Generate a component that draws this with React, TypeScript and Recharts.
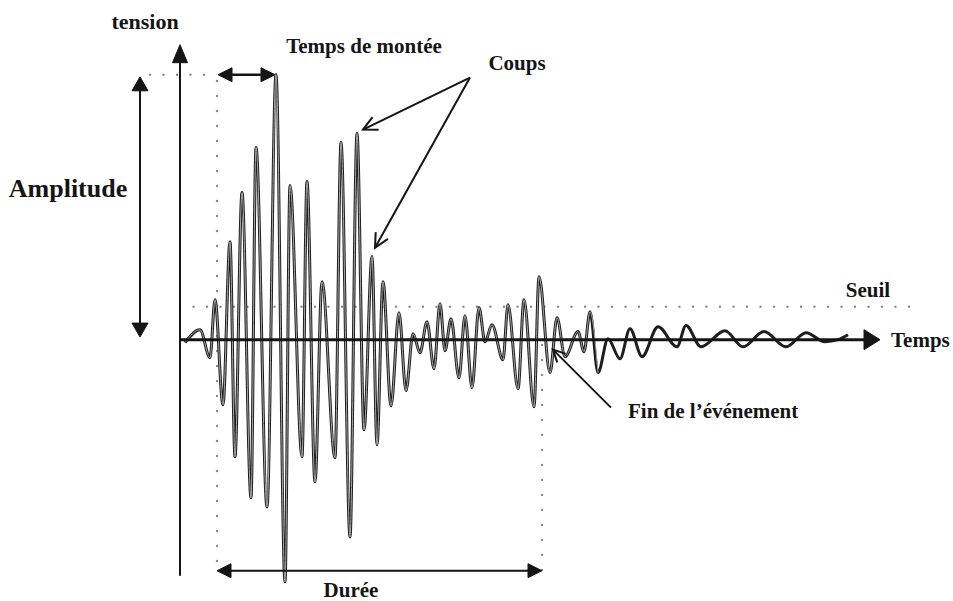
import React from 'react';
import { ComposedChart, Line, XAxis, YAxis, ReferenceLine, ReferenceDot } from 'recharts';

// Time (t) and voltage (v) of the acoustic-emission burst
const times = [0.5, 2.0, 3.0, 3.5, 4.3, 5.0, 5.5, 6.2, 7.1, 7.6, 8.7, 9.6, 10.5, 11.0, 12.2, 12.7, 13.5, 14.2, 15.5, 16.1, 17.0, 17.7, 18.4, 19.2, 19.7, 20.3, 21.1, 21.9, 22.6, 23.3, 24.0, 24.7, 25.4, 26.0, 26.5, 27.1, 27.9, 28.5, 29.2, 29.9, 30.5, 31.2, 32.3, 32.8, 33.8, 34.4, 35.4, 35.9, 37.0, 37.7, 38.5, 39.8, 40.4, 41.0, 41.8, 42.8, 44.0, 45.0, 46.2, 47.8, 49.7, 50.6, 52.1, 54.5, 56.3, 58.4, 60.6, 62.6, 64.5, 65.8, 66.8];
const volts = [-1.1, 3.8, -6.9, 15.3, -24.9, 37.5, -44.8, 56.3, -60.5, 73.6, -64.0, 101.5, -92.7, 59.0, -44.8, 60.5, -54.4, 22.2, -45.2, 75.5, -75.5, 78.9, -34.5, 31.8, -40.2, 22.2, -25.3, 10.3, -19.5, 2.3, -5.0, 6.9, -11.1, 13.8, -4.2, 8.0, -14.6, 9.2, -18.4, 12.3, -0.8, 5.7, -7.7, 13.4, -18.8, 15.3, -25.7, 24.1, -12.6, 8.4, -6.5, 3.1, -4.6, 10.7, -12.6, 0.4, -7.3, 4.2, -6.5, 5.0, -2.7, 5.4, -2.7, 3.4, -2.7, 3.1, -2.7, 2.7, -0.8, 0, 1.9];

const threshold = 12.6;
const amplitude = 101.4;
const riseStart = 3.7;
const riseEnd = 9.5;
const eventEnd = 36.2;
const burstEnd = 41.8; // last sample of the burst drawn with the hollow stroke

const data = times.map((t, i) => ({
  t,
  v: volts[i],
  burst: t <= burstEnd ? volts[i] : null,
}));

const INK = '#151515';
const DOT = '#8a8a8a';

type ArrowOpts = { start?: boolean; end?: boolean; head: number; half: number; width: number; color: string; open?: boolean };

function arrowShape(o: ArrowOpts) {
  return (p: any) => {
    const { x1, y1, x2, y2 } = p;
    const dx = x2 - x1, dy = y2 - y1;
    const len = Math.sqrt(dx * dx + dy * dy) || 1;
    const ux = dx / len, uy = dy / len;
    const nx = -uy, ny = ux;
    let sx = x1, sy = y1, ex = x2, ey = y2;
    const heads: React.ReactNode[] = [];
    const mk = (tx: number, ty: number, dirx: number, diry: number, key: string) => {
      const bx = tx - dirx * o.head, by = ty - diry * o.head;
      const a = `${bx + nx * o.half},${by + ny * o.half}`;
      const b = `${bx - nx * o.half},${by - ny * o.half}`;
      if (o.open) {
        return <polyline key={key} points={`${a} ${tx},${ty} ${b}`} fill="none" stroke={o.color} strokeWidth={o.width} strokeLinejoin="miter" />;
      }
      return <polygon key={key} points={`${a} ${tx},${ty} ${b}`} fill={o.color} stroke={o.color} strokeWidth={1} />;
    };
    if (o.end) {
      heads.push(mk(x2, y2, ux, uy, 'e'));
      if (!o.open) { ex = x2 - ux * o.head * 0.9; ey = y2 - uy * o.head * 0.9; }
    }
    if (o.start) {
      heads.push(mk(x1, y1, -ux, -uy, 's'));
      if (!o.open) { sx = x1 + ux * o.head * 0.9; sy = y1 + uy * o.head * 0.9; }
    }
    return (
      <g>
        <line x1={sx} y1={sy} x2={ex} y2={ey} stroke={o.color} strokeWidth={o.width} />
        {heads}
      </g>
    );
  };
}

function textShape(text: string, size: number, anchor: 'start' | 'middle' | 'end') {
  return (p: any) => (
    <text x={p.cx} y={p.cy} textAnchor={anchor} fontFamily="'Liberation Serif', 'Times New Roman', serif" fontWeight="bold" fontSize={size} fill={INK}>
      {text}
    </text>
  );
}

const labels: { text: string; t: number; v: number; size: number; anchor: 'start' | 'middle' | 'end' }[] = [
  { text: 'tension', t: -3.5, v: 118.9, size: 22, anchor: 'middle' },
  { text: 'Temps de montée', t: 18.4, v: 109.8, size: 21, anchor: 'middle' },
  { text: 'Coups', t: 33.7, v: 103.3, size: 21, anchor: 'middle' },
  { text: 'Amplitude', t: -11.2, v: 54.7, size: 26, anchor: 'middle' },
  { text: 'Seuil', t: 68.8, v: 16.5, size: 21, anchor: 'middle' },
  { text: 'Temps', t: 71.1, v: -2.7, size: 21, anchor: 'start' },
  { text: 'Fin de l\u2019événement', t: 44.8, v: -29.9, size: 21, anchor: 'start' },
  { text: 'Durée', t: 17.1, v: -98.4, size: 21, anchor: 'middle' },
];

const coupsApex = { t: 29, v: 100.3 };
const coupsTips = [{ t: 18.3, v: 80.4 }, { t: 19.5, v: 35.2 }];
const finArrow = [{ t: 43.1, v: -26.0 }, { t: 37.3, v: -3.8 }];

export default function App() {
  return (
    <div style={{ position: 'absolute', left: 0, top: 0, width: 953, height: 601, background: '#fff' }}>
      <ComposedChart width={953} height={601} data={data} margin={{ top: 0, right: 0, bottom: 0, left: 0 }}>
        <XAxis dataKey="t" type="number" domain={[-18, 77.3]} hide allowDataOverflow />
        <YAxis type="number" domain={[-100, 130]} hide allowDataOverflow />

        {/* dotted guides */}
        <ReferenceLine segment={[{ x: 0, y: threshold }, { x: 73, y: threshold }]} stroke={DOT} strokeWidth={2.4} strokeDasharray="0 13.5" strokeLinecap="round" ifOverflow="visible" />
        <ReferenceLine segment={[{ x: -3, y: amplitude }, { x: riseStart, y: amplitude }]} stroke={DOT} strokeWidth={2.4} strokeDasharray="0 13.5" strokeLinecap="round" ifOverflow="visible" />
        <ReferenceLine segment={[{ x: riseStart, y: 99 }, { x: riseStart, y: -88 }]} stroke={DOT} strokeWidth={2.4} strokeDasharray="0 15" strokeLinecap="round" ifOverflow="visible" />
        <ReferenceLine segment={[{ x: eventEnd, y: -2 }, { x: eventEnd, y: -90 }]} stroke={DOT} strokeWidth={2.4} strokeDasharray="0 15" strokeLinecap="round" ifOverflow="visible" />

        {/* signal: dark stroke for the whole record, light core over the burst */}
        <Line dataKey="v" type="monotone" stroke="#1e1e1e" strokeWidth={3.0} dot={false} activeDot={false} isAnimationActive={false} />
        <Line dataKey="burst" type="monotone" stroke="#a8a8a8" strokeWidth={1.0} dot={false} activeDot={false} isAnimationActive={false} />

        {/* axes */}
        <ReferenceLine segment={[{ x: 0, y: -90.3 }, { x: 0, y: 112.9 }]} ifOverflow="visible" shape={arrowShape({ end: true, head: 18, half: 7.5, width: 2, color: INK })} />
        <ReferenceLine segment={[{ x: 0, y: 0 }, { x: 70, y: 0 }]} ifOverflow="visible" shape={arrowShape({ end: true, head: 16, half: 10, width: 3, color: INK })} />

        {/* dimension arrows */}
        <ReferenceLine segment={[{ x: -4, y: 1 }, { x: -4, y: 100.6 }]} ifOverflow="visible" shape={arrowShape({ start: true, end: true, head: 14, half: 8, width: 2, color: INK })} />
        <ReferenceLine segment={[{ x: riseStart + 0.1, y: amplitude }, { x: riseEnd, y: amplitude }]} ifOverflow="visible" shape={arrowShape({ start: true, end: true, head: 14, half: 7, width: 2.5, color: INK })} />
        <ReferenceLine segment={[{ x: riseStart, y: -88.4 }, { x: eventEnd, y: -88.4 }]} ifOverflow="visible" shape={arrowShape({ start: true, end: true, head: 14, half: 7, width: 2, color: INK })} />

        {coupsTips.map((tip, i) => (
          <ReferenceLine key={`c${i}`} segment={[{ x: coupsApex.t, y: coupsApex.v }, { x: tip.t, y: tip.v }]} ifOverflow="visible" shape={arrowShape({ end: true, open: true, head: 14, half: 7, width: 2, color: INK })} />
        ))}
        <ReferenceLine segment={[{ x: finArrow[0].t, y: finArrow[0].v }, { x: finArrow[1].t, y: finArrow[1].v }]} ifOverflow="visible" shape={arrowShape({ end: true, open: true, head: 12, half: 6, width: 2, color: INK })} />

        {labels.map((l) => (
          <ReferenceDot key={l.text} x={l.t} y={l.v} r={0} ifOverflow="visible" shape={textShape(l.text, l.size, l.anchor)} />
        ))}
      </ComposedChart>
    </div>
  );
}
